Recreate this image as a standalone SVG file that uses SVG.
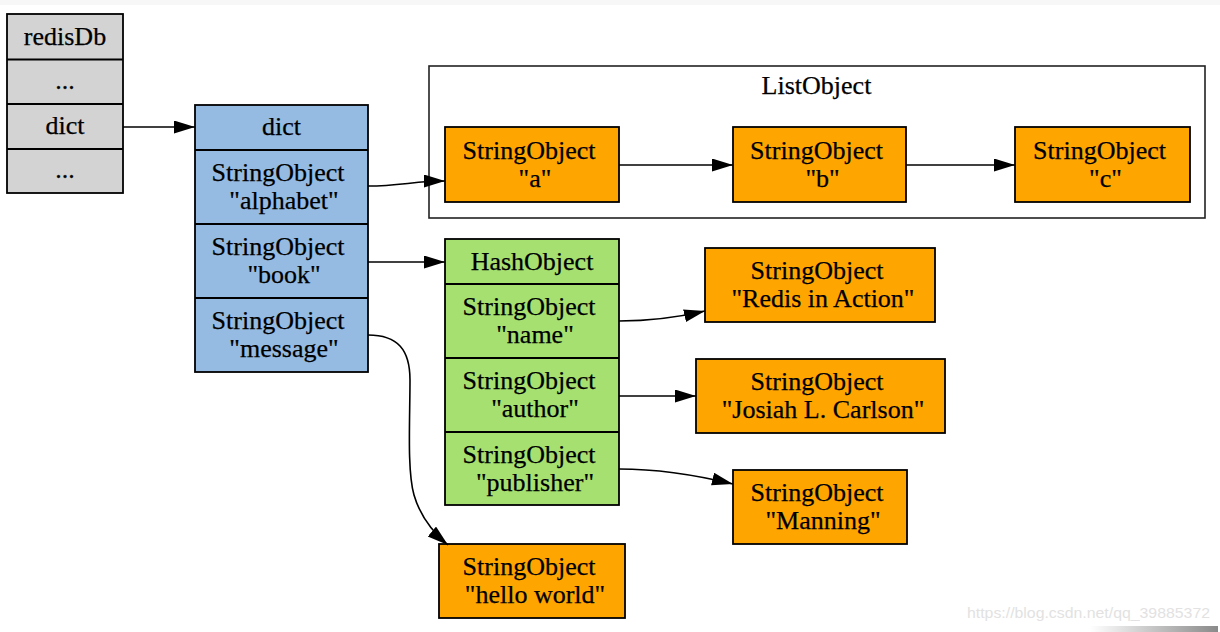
<svg xmlns="http://www.w3.org/2000/svg" width="1220" height="632" viewBox="0 0 1220 632">
<style>
  text { font-family: "Liberation Serif", "Times New Roman", serif; font-size: 26px; fill: #000; text-anchor: middle; stroke: #000; stroke-width: 0.25; }
  .box { stroke: #000; stroke-width: 1.8; }
  .gray { fill: #d3d3d3; }
  .blue { fill: #95bbe3; }
  .green { fill: #a6e070; }
  .orange { fill: #ffa500; }
  .sep { stroke: #000; stroke-width: 1.8; }
  .edge { fill: none; stroke: #000; stroke-width: 1.6; marker-end: url(#arrow); }
  .cluster { fill: #fff; stroke: #222; stroke-width: 1.6; }
  .wm { font-family: "Liberation Sans", Arial, sans-serif; font-size: 15px; fill: #e2e2e2; stroke: none; text-anchor: start; }
</style>
<defs>
  <marker id="arrow" markerUnits="userSpaceOnUse" markerWidth="22" markerHeight="14" refX="21" refY="6.5" orient="auto">
    <path d="M0,0 L21,6.5 L0,13 z" fill="#000"/>
  </marker>
  <linearGradient id="shade" x1="0" y1="0" x2="1" y2="0">
    <stop offset="0" stop-color="#ffffff"/>
    <stop offset="1" stop-color="#8a8a8a"/>
  </linearGradient>
</defs>
<rect x="0" y="0" width="1220" height="632" fill="#fff"/>
<rect x="0" y="0" width="1220" height="5" fill="#f7f7f7"/>

<g id="listobject">
  <rect class="cluster" x="429" y="66" width="776" height="152"/>
  <text x="816.5" y="94">ListObject</text>
</g>

<g id="redisDb">
  <rect class="box gray" x="7" y="14" width="116" height="179"/>
  <line class="sep" x1="7" y1="59.5" x2="123" y2="59.5"/>
  <line class="sep" x1="7" y1="104" x2="123" y2="104"/>
  <line class="sep" x1="7" y1="149" x2="123" y2="149"/>
  <text x="65" y="44.5">redisDb</text>
  <text x="65" y="89">...</text>
  <text x="65" y="134">dict</text>
  <text x="65" y="178">...</text>
</g>

<g id="dict">
  <rect class="box blue" x="195" y="105" width="173" height="267"/>
  <line class="sep" x1="195" y1="150" x2="368" y2="150"/>
  <line class="sep" x1="195" y1="224" x2="368" y2="224"/>
  <line class="sep" x1="195" y1="298" x2="368" y2="298"/>
  <text x="281.5" y="135">dict</text>
  <text x="278" y="180.5">StringObject</text>
  <text x="284" y="208.5">"alphabet"</text>
  <text x="278" y="254.5">StringObject</text>
  <text x="284" y="282.5">"book"</text>
  <text x="278" y="328.5">StringObject</text>
  <text x="284" y="356.5">"message"</text>
</g>

<g id="str_a">
  <rect class="box orange" x="445" y="127" width="174" height="75"/>
  <text x="529" y="158.5">StringObject</text>
  <text x="535" y="186.5">"a"</text>
</g>
<g id="str_b">
  <rect class="box orange" x="733" y="127" width="173" height="75"/>
  <text x="816.5" y="158.5">StringObject</text>
  <text x="822.5" y="186.5">"b"</text>
</g>
<g id="str_c">
  <rect class="box orange" x="1015" y="127" width="175" height="75"/>
  <text x="1099.5" y="158.5">StringObject</text>
  <text x="1105.5" y="186.5">"c"</text>
</g>

<g id="hashobject">
  <rect class="box green" x="445" y="239" width="174" height="266"/>
  <line class="sep" x1="445" y1="284" x2="619" y2="284"/>
  <line class="sep" x1="445" y1="358" x2="619" y2="358"/>
  <line class="sep" x1="445" y1="432" x2="619" y2="432"/>
  <text x="532" y="269.5">HashObject</text>
  <text x="529" y="314.5">StringObject</text>
  <text x="535" y="342.5">"name"</text>
  <text x="529" y="388.5">StringObject</text>
  <text x="535" y="416.5">"author"</text>
  <text x="529" y="462.5">StringObject</text>
  <text x="535" y="490.5">"publisher"</text>
</g>

<g id="str_redis">
  <rect class="box orange" x="705" y="248" width="230" height="74"/>
  <text x="817" y="278.5">StringObject</text>
  <text x="823" y="306.5">"Redis in Action"</text>
</g>
<g id="str_josiah">
  <rect class="box orange" x="696" y="359" width="249" height="74"/>
  <text x="817" y="389.5">StringObject</text>
  <text x="823" y="417.5">"Josiah L. Carlson"</text>
</g>
<g id="str_manning">
  <rect class="box orange" x="733" y="470" width="174" height="74"/>
  <text x="817" y="500.5">StringObject</text>
  <text x="823" y="528.5">"Manning"</text>
</g>
<g id="str_hello">
  <rect class="box orange" x="439" y="544" width="186" height="74"/>
  <text x="529" y="574.5">StringObject</text>
  <text x="535" y="602.5">"hello world"</text>
</g>

<g id="edges">
  <path class="edge" d="M123,127 L195,127"/>
  <path class="edge" d="M368,186 C400,186 415,181 445,181"/>
  <path class="edge" d="M619,165 L733,165"/>
  <path class="edge" d="M906,165 L1015,165"/>
  <path class="edge" d="M368,262 L445,262"/>
  <path class="edge" d="M368,335 C398,335 410,350 410,380 C410,420 407,470 414,495 C419,512 430,530 448,545"/>
  <path class="edge" d="M619,321 C650,321 675,318 705,311"/>
  <path class="edge" d="M619,396 L696,396"/>
  <path class="edge" d="M619,469 C660,469 700,476 733,484"/>
</g>

<text class="wm" x="967" y="618" textLength="243" lengthAdjust="spacingAndGlyphs">https://blog.csdn.net/qq_39885372</text>
<rect x="1090" y="626" width="128" height="6" fill="url(#shade)"/>
</svg>
